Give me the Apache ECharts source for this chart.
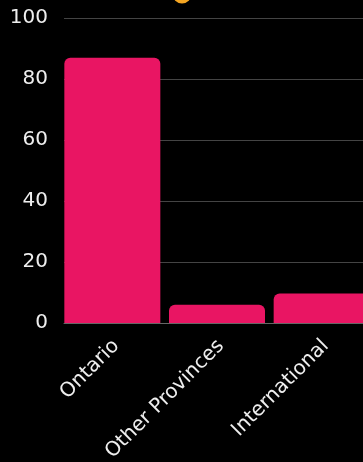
<!DOCTYPE html>
<html>
<head>
<meta charset="utf-8">
<style>
  html, body { margin: 0; padding: 0; background: #000; }
  #chart { width: 363px; height: 462px; }
</style>
<script src="https://cdn.jsdelivr.net/npm/echarts@6/dist/echarts.min.js"></script>
</head>
<body>
<div id="chart"></div>
<script>
// Where students come from (percent)
const categories = ['Ontario', 'Other Provinces', 'International'];
const shares = [87, 6, 9.7];
// second, empty series that shares the category slots
const otherShares = [null, null, null];
const yTicks = { min: 0, max: 100, interval: 20 };

const FONT = 'DejaVu Sans';
const chart = echarts.init(document.getElementById('chart'), null, { renderer: 'canvas' });

chart.setOption({
  backgroundColor: '#000',
  animation: false,
  grid: { left: 64, width: 314, top: 18, bottom: 139, containLabel: false, outerBoundsMode: 'none' },
  xAxis: {
    type: 'category',
    data: categories,
    axisTick: { show: false },
    axisLine: { show: true, lineStyle: { color: '#666', width: 1 } },
    axisLabel: {
      rotate: 45,
      interval: 0,
      margin: 20,
      color: '#eee',
      fontFamily: FONT,
      fontSize: 20
    }
  },
  yAxis: {
    type: 'value',
    min: yTicks.min,
    max: yTicks.max,
    interval: yTicks.interval,
    axisLine: { show: false },
    axisTick: { show: false },
    splitLine: { lineStyle: { color: '#444', width: 1 } },
    axisLabel: {
      margin: 16,
      color: '#eee',
      fontFamily: FONT,
      fontSize: 20
    }
  },
  series: [{
    type: 'bar',
    data: shares,
    barWidth: 96,
    barGap: 0,
    itemStyle: { color: '#E91563', borderRadius: [6, 6, 0, 0] }
  }, {
    type: 'bar',
    data: otherShares,
    barWidth: 8,
    barGap: 0,
    itemStyle: { color: '#F5A623' }
  }],
  graphic: [{
    type: 'circle',
    shape: { cx: 182, cy: -6, r: 9.5 },
    style: { fill: '#F5A623' }
  }]
});
</script>
</body>
</html>
